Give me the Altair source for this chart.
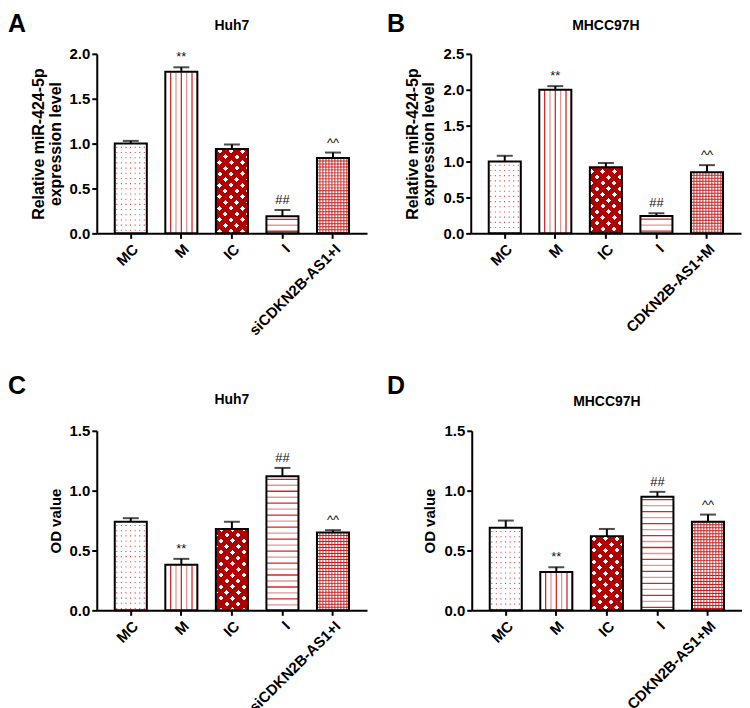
import altair as alt
import pandas as pd

# ---------------- data ----------------
groups_huh7 = ["MC", "M", "IC", "I", "siCDKN2B-AS1+I"]
groups_mhcc = ["MC", "M", "IC", "I", "CDKN2B-AS1+M"]
sig_marks = ["", "**", "", "##", "^^"]

mir_huh7_mean = [1.00, 1.80, 0.94, 0.19, 0.84]
mir_huh7_upper = [1.03, 1.85, 0.99, 0.26, 0.90]
mir_mhcc_mean = [1.00, 2.00, 0.92, 0.24, 0.85]
mir_mhcc_upper = [1.08, 2.05, 0.98, 0.28, 0.95]
od_huh7_mean = [0.74, 0.38, 0.68, 1.12, 0.65]
od_huh7_upper = [0.77, 0.43, 0.74, 1.19, 0.67]
od_mhcc_mean = [0.69, 0.32, 0.62, 0.95, 0.74]
od_mhcc_upper = [0.75, 0.36, 0.68, 0.99, 0.80]

y_ticks_a = [0, 0.5, 1.0, 1.5, 2.0]
y_ticks_b = [0, 0.5, 1.0, 1.5, 2.0, 2.5]
y_ticks_cd = [0, 0.5, 1.0, 1.5]

# ---------------- style ----------------
FONT = "Liberation Sans"
W, H = 271, 180
PI, PO = 0.366, 0.356
STEP = W / (5 - PI + 2 * PO)
BW = STEP * (1 - PI)

DOT_RED = "#e04848"
LINE_DARK = "#cf2a2a"
LINE_LIGHT = "#e59595"
IC_RED = "#b00000"
CHECK_RED = "#c42020"
CLEAR = "rgba(255,255,255,0)"

_gid = [0]


def stripes(total, period, thick, colors, bg, start=None):
    stops = [(0.0, bg)]
    pos = period / 2 if start is None else start
    k = 0
    while pos - thick / 2 < total:
        a = max(0.0, (pos - thick / 2) / total)
        b = min(1.0, (pos + thick / 2) / total)
        c = colors[k % len(colors)]
        stops += [(a, bg), (a, c), (b, c), (b, bg)]
        pos += period
        k += 1
    stops.append((1.0, bg))
    return stops


def grad(stops, x1, y1, x2, y2):
    _gid[0] += 1
    return {
        "gradient": "linear", "id": "patgrad%d" % _gid[0],
        "x1": x1, "y1": y1, "x2": x2, "y2": y2,
        "stops": [{"offset": round(o, 4), "color": c} for o, c in stops],
    }


def pattern_parts(i, w, h):
    """list of (kind, colour/fill, dash, dashoffset)"""
    if i == 0:  # fine dots
        return [("bar", "white", None, 0),
                ("v", DOT_RED, [1.1, 4.1], 2.0),
                ("h", "white", [3.5, 1.1], 2.0)]
    if i == 1:  # vertical lines
        p = w / 3
        return [("bar", "white", None, 0),
                ("h", LINE_DARK, [1.3, p - 1.3], w / 6 + 0.65),
                ("h", LINE_LIGHT, [1.3, p - 1.3], 0.65)]
    if i == 2:  # diagonal crosshatch (diamonds)
        tot = w + h
        c = tot / (w * w + h * h)
        st = stripes(tot, 11.5, 6.5, [IC_RED], CLEAR, start=0)
        return [("bar", "white", None, 0),
                ("bar", grad(st, 0, 0, c * w, c * h), None, 0),
                ("bar", grad(st, 0, 1, c * w, 1 - c * h), None, 0)]
    if i == 3:  # horizontal lines
        return [("bar", "white", None, 0),
                ("v", LINE_DARK, [1.3, 10.7], 9.65),
                ("v", LINE_LIGHT, [1.3, 10.7], 3.65)]
    # fine check
    return [("bar", "white", None, 0),
            ("v", CHECK_RED, [0.95, 2.05], 0.5),
            ("h", CHECK_RED, [0.95, 2.05], 0.5)]


def panel(letter, title, groups, means, uppers, ymax, yticks, ytitle,
          ytitle_size, letter_x, letter_y, title_y):
    df = pd.DataFrame({"group": groups, "mean": means, "upper": uppers,
                       "sig": sig_marks})
    df["zero"] = 0.0
    df["mid"] = df["mean"] / 2
    xenc = alt.X("group:N", sort=groups, title=None,
                 scale=alt.Scale(paddingInner=PI, paddingOuter=PO),
                 axis=alt.Axis(labelAngle=-45, labelFontSize=15, labelPadding=3,
                               tickSize=5))
    yscale = alt.Scale(domain=[0, ymax], nice=False)
    yaxis = alt.Axis(values=yticks, format=".1f", title=ytitle,
                     titleFontSize=ytitle_size, titlePadding=6,
                     labelFontSize=15, labelPadding=2, tickSize=5,
                     titleLineHeight=ytitle_size + 1)

    def ych(field):
        return alt.Y(field, scale=yscale, axis=yaxis)

    base = alt.Chart(df)
    layers = []
    for i, (g, v) in enumerate(zip(groups, means)):
        h = v / ymax * H
        sel = base.transform_filter(alt.FieldEqualPredicate(field="group", equal=g))
        for kind, col, dash, off in pattern_parts(i, BW, h):
            if kind == "bar":
                layers.append(sel.mark_bar(fill=col, strokeWidth=0)
                              .encode(x=xenc, y=ych("mean:Q")))
            elif kind == "v":
                layers.append(sel.mark_rule(stroke=col, strokeWidth=BW - 1,
                                            strokeDash=dash, strokeDashOffset=off,
                                            strokeCap="butt", clip=True)
                              .encode(x=xenc, y=ych("mean:Q"), y2="zero:Q"))
            else:
                layers.append(sel.mark_rule(stroke=col, strokeWidth=max(h - 1, 0.5),
                                            strokeDash=dash, strokeDashOffset=off,
                                            strokeCap="butt", clip=True,
                                            xOffset=-BW / 2, x2Offset=BW / 2)
                              .encode(x=xenc, x2="group:N", y=ych("mid:Q")))
    outline = base.mark_bar(fillOpacity=0, stroke="black", strokeWidth=2).encode(
        x=xenc, y=ych("mean:Q"))
    err = base.mark_rule(color="black", strokeWidth=2).encode(
        x=xenc, y=ych("mean:Q"), y2="upper:Q")
    cap = base.mark_tick(color="black", thickness=2, size=16).encode(
        x=xenc, y=ych("upper:Q"))
    sig = base.mark_text(baseline="bottom", dy=-3, fontSize=13, font=FONT,
                         color="#111").encode(x=xenc, y=ych("upper:Q"), text="sig:N")
    lab = pd.DataFrame({"letter": [letter], "title": [title]})
    let = alt.Chart(lab).mark_text(
        align="left", baseline="top", fontSize=25, fontWeight="bold", font=FONT,
        color="black").encode(x=alt.value(letter_x), y=alt.value(letter_y),
                              text="letter:N")
    ttl = alt.Chart(lab).mark_text(
        align="center", baseline="bottom", fontSize=14, fontWeight="bold",
        font=FONT, color="black").encode(x=alt.value(W / 2), y=alt.value(title_y),
                                         text="title:N")
    return alt.layer(*layers, outline, err, cap, sig, let, ttl).properties(
        width=W, height=H)


pA = panel("A", "Huh7", groups_huh7, mir_huh7_mean, mir_huh7_upper, 2.0,
           y_ticks_a, ["Relative miR-424-5p", "expression level"], 16,
           -89, -42, -21)
pB = panel("B", "MHCC97H", groups_mhcc, mir_mhcc_mean, mir_mhcc_upper, 2.5,
           y_ticks_b, ["Relative miR-424-5p", "expression level"], 16,
           -84, -42, -21)
pC = panel("C", "Huh7", groups_huh7, od_huh7_mean, od_huh7_upper, 1.5,
           y_ticks_cd, "OD value", 15, -89, -57, -24)
pD = panel("D", "MHCC97H", groups_mhcc, od_mhcc_mean, od_mhcc_upper, 1.5,
           y_ticks_cd, "OD value", 15, -85, -57, -22)

chart = alt.vconcat(
    alt.hconcat(pA, pB, spacing=20),
    alt.hconcat(pC, pD, spacing=20),
    spacing=36,
).properties(
    padding={"left": 0, "top": 3, "right": 0, "bottom": 0}
).configure_view(stroke=None).configure_axis(
    labelFont=FONT, titleFont=FONT, labelFontWeight="bold",
    titleFontWeight="bold", labelColor="black", titleColor="black",
    domainColor="black", tickColor="black", domainWidth=2, tickWidth=2,
    grid=False,
)

chart.save("out.html", embed_options={"renderer": "svg", "actions": False})
